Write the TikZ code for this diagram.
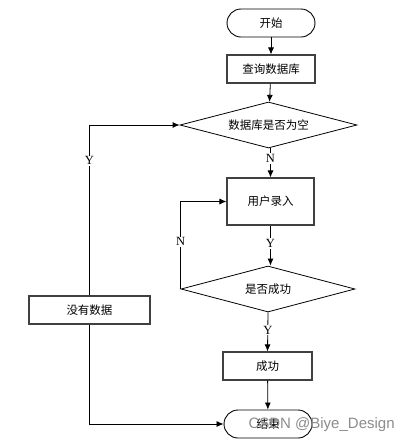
\documentclass[tikz,border=0pt]{standalone}
\usepackage{fontspec}
\setmainfont{Liberation Serif}
\newfontfamily\cjk{Noto Sans CJK SC}
\newfontfamily\wmfont{Liberation Sans}
\usetikzlibrary{shapes.geometric,arrows.meta}
\begin{document}
\begin{tikzpicture}[x=1pt,y=-1pt,
  box/.style={draw=black!75,line width=1.1pt,minimum width=88pt,minimum height=28pt,inner sep=0pt,font=\cjk\fontsize{11.5}{12}\selectfont},
  term/.style={box,rounded corners=14pt,draw=black,line width=0.9pt},
  dec/.style={draw=black,line width=0.8pt,diamond,aspect=3.8,inner sep=0pt,font=\cjk\fontsize{11.5}{12}\selectfont},
  conn/.style={draw=black,line width=0.8pt},
  arr/.style={conn,-{Latex[length=7pt,width=6pt]}},
  lab/.style={fill=white,inner sep=1pt,font=\fontsize{12.5}{13}\selectfont}]
\useasboundingbox (0,0) rectangle (416,445);
\fill[white] (0,0) rectangle (416,445);
\node[term] (start) at (271,23) {开始};
\node[box] (query) at (271,69) {查询数据库};
\node[dec,minimum width=177pt,minimum height=46pt] (d1) at (268.5,125) {数据库是否为空};
\node[box,minimum height=47pt,minimum width=87pt] (input) at (270.5,201.5) {用户录入};
\node[dec,minimum width=174pt,minimum height=46pt] (d2) at (268,289) {是否成功};
\node[box,minimum width=89pt] (ok) at (267.5,366) {成功};
\node[term] (end) at (268,424) {结束};
\node[box,minimum width=121pt] (nodata) at (89.5,310) {没有数据};
\draw[arr] (start) -- (query);
\draw[arr] (query) -- (d1);
\draw[arr] (d1.south -| input.north) -- node[lab,pos=0.35]{N} (input.north);
\draw[arr] (input.south) -- node[lab,pos=0.45]{Y} (d2.north -| input.south);
\draw[arr] (d2.west) -- node[lab,pos=0.54]{N} (d2.west |- input.west) -- (input.west);
\draw[arr] (d2.south) -- node[lab,pos=0.45]{Y} (ok.north);
\draw[arr] (ok) -- (end);
\draw[arr] (nodata.north) -- node[lab,pos=0.79]{Y} (nodata.north |- d1.west) -- (d1.west);
\draw[arr] (nodata.south) |- (end.west);
\node[text=black!45,font=\wmfont\fontsize{15}{15}\selectfont,anchor=west] (wm) at (245,425) {CSDN @Biye\_Design};
\end{tikzpicture}
\end{document}
